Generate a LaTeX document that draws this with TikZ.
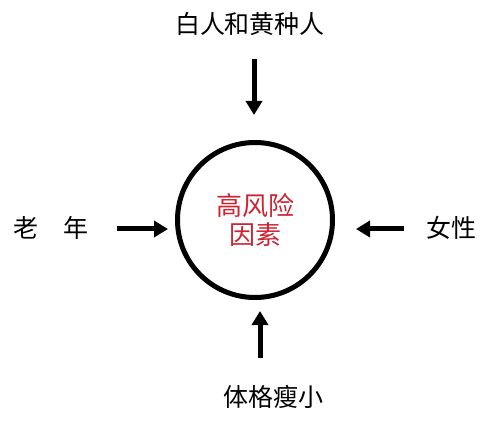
\documentclass[tikz,border=0pt]{standalone}
\usepackage{fontspec}
\newfontfamily\cjk{Noto Sans CJK SC}
\usetikzlibrary{arrows.meta}
\definecolor{hired}{RGB}{204,36,50}
\tikzset{
  lbl/.style={font=\cjk\fontsize{25}{30}\selectfont, text=black, inner sep=0pt},
  arr/.style={line width=5pt, -{Triangle[length=14pt,width=16pt]}},
  core/.style={circle, draw, line width=5pt, minimum size=155pt, inner sep=0pt,
    align=center, text=hired, font=\cjk\fontsize{26}{38}\selectfont}
}
\begin{document}
\begin{tikzpicture}[x=1pt,y=-1pt]
\useasboundingbox (0,0) rectangle (499,428);
\node[core] (c) at (255,220) {\raisebox{-11pt}{\shortstack{高风险\\[2pt]因素}}};
\node[lbl] (top) at (250,24) {白人和黄种人};
\node[lbl] (left) at (51,228) {老\hspace{1em}年};
\node[lbl] (right) at (451,228) {女性};
\node[lbl] (bot) at (273,397) {体格瘦小};
\coordinate (ts) at (254,59);
\coordinate (te) at (254,115);
\coordinate (ls) at (117,229);
\coordinate (le) at (168,229);
\coordinate (rs) at (404,229);
\coordinate (re) at (356,229);
\coordinate (bs) at (260,358);
\coordinate (be) at (260,311);
\draw[arr] (ts) -- (te);
\draw[arr] (ls) -- (le);
\draw[arr] (rs) -- (re);
\draw[arr] (bs) -- (be);
\end{tikzpicture}
\end{document}
